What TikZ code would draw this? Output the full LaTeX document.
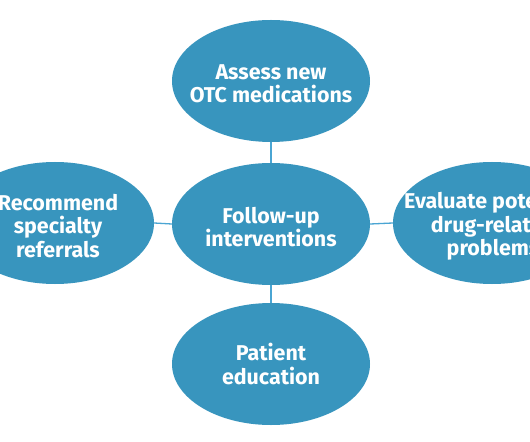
\documentclass[tikz,border=0pt]{standalone}
\usepackage{fontspec}
\setmainfont{Fira Sans}
\usetikzlibrary{shapes.geometric}
\definecolor{bubble}{HTML}{3895BE}
\definecolor{link}{HTML}{4AA5D3}
\tikzset{
  bubblenode/.style={ellipse, fill=bubble, minimum width=198bp, minimum height=122bp, inner sep=0pt,
    text=white, align=center, font=\fontsize{21.5}{23.5}\selectfont\bfseries},
  linkline/.style={draw=link, line width=1.3bp}
}
\begin{document}
\begin{tikzpicture}[x=1bp,y=-1bp]
\useasboundingbox (0,0) rectangle (530,442);
\clip (0,0) rectangle (530,442);
\fill[white] (0,0) rectangle (530,442);
\node[bubblenode] (top) at (271,81) {};
\node[bubblenode] (mid) at (271,224) {};
\node[bubblenode] (bot) at (271,364) {};
\node[bubblenode] (lft) at (55,223) {};
\node[bubblenode] (rgt) at (492,223) {};
\node[bubblenode, fill=none, minimum size=0pt] (toptext) at (271,84) {Assess new\\OTC medications};
\node[bubblenode, fill=none, minimum size=0pt] (midtext) at (271,227) {Follow-up\\interventions};
\node[bubblenode, fill=none, minimum size=0pt] (bottext) at (271,364) {Patient\\education};
\node[bubblenode, fill=none, minimum size=0pt] (lfttext) at (58,226) {Recommend\\specialty\\referrals};
\node[bubblenode, fill=none, minimum size=0pt] (rgttext) at (493,226) {Evaluate potential\\drug-related\\problems};
\draw[linkline] (top.south) -- (mid.north);
\draw[linkline] (mid.south) -- (bot.north);
\draw[linkline] (lft.east) -- (mid.west);
\draw[linkline] (mid.east) -- (rgt.west);
\end{tikzpicture}
\end{document}
